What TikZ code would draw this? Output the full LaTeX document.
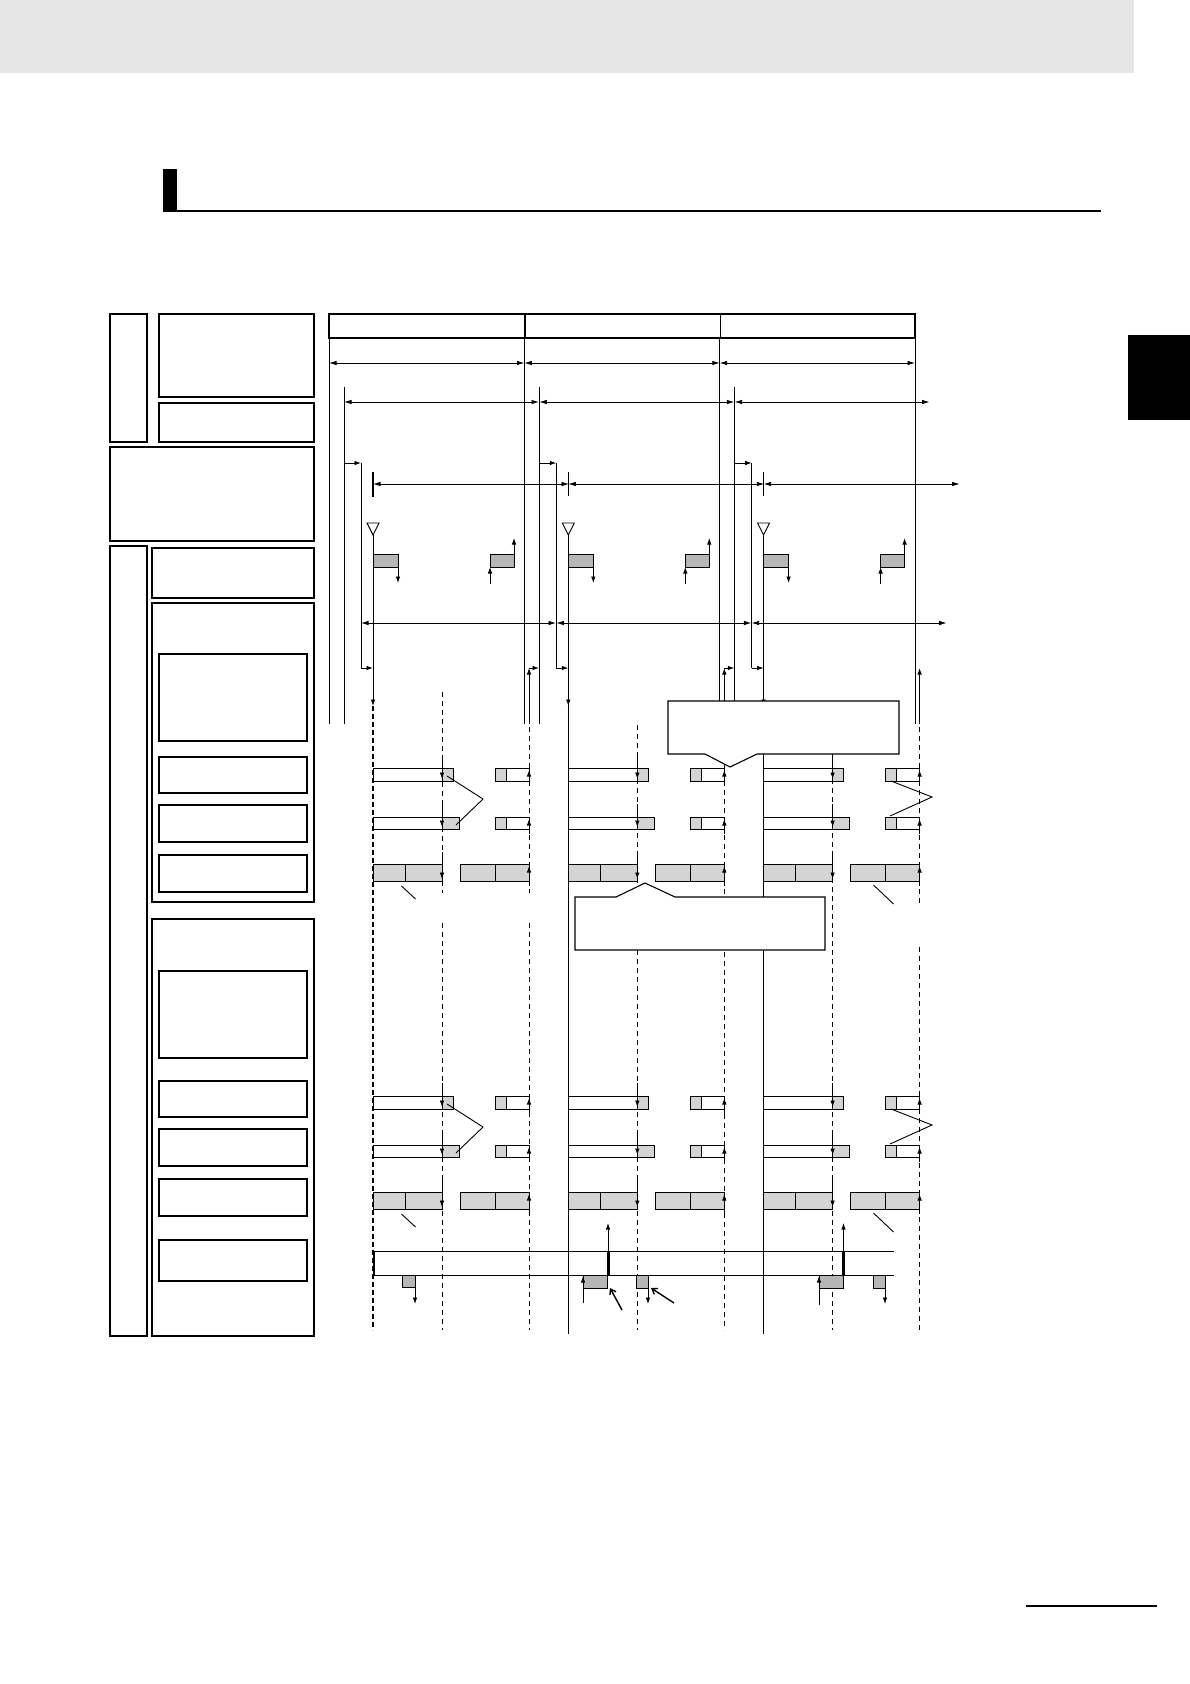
\documentclass[tikz,border=0pt]{standalone}
\usepackage{xcolor}
\usepackage{tikz}
\usetikzlibrary{arrows.meta, calc}
\definecolor{cBand}{RGB}{230,230,230}
\definecolor{cShade}{RGB}{182,182,182}
\definecolor{cLight}{RGB}{212,212,212}

\begin{document}
\begin{tikzpicture}[x=1pt, y=-1pt, line width=0.9pt,
		box/.style={draw, line width=1.1pt},
		dim/.style={{Latex[length=7.5pt,width=4.5pt]}-{Latex[length=7.5pt,width=4.5pt]}, line width=0.8pt},
		tip/.style={-{Latex[length=6.5pt,width=4.5pt]}, line width=0.8pt},
		dsh/.style={dashed, dash pattern=on 5pt off 4pt, line width=0.9pt},
		pointer/.style={-{Straight Barb[length=5pt,width=7pt]}, line width=1.4pt}]
	\useasboundingbox (0,0) rectangle (1190,1684);
	\fill[white] (0,0) rectangle (1190,1684);
	% page furniture
	\fill[cBand] (0,0) rectangle (1134,73);
	\fill (163,169) rectangle (177,212);
	\fill (163,209.5) rectangle (1101,212);
	\fill (1128,335) rectangle (1190,420);
	\draw[line width=1.5pt] (1026,1606) -- (1157,1606);
	% left column
	\foreach \xa/\ya/\xb/\yb in {110/314/147/442, 159/314/314/397, 159/403/314/442, 110/447/314/541, 110/546/147/1336, 152/548/314/598, 152/603/314/902, 159/654/307/741, 159/757/307/793, 159/805/307/842, 159/855/307/892, 152/919/314/1336, 159/971/307/1058, 159/1081/307/1117, 159/1129/307/1166, 159/1179/307/1216, 159/1240/307/1281}
		\draw[box] (\xa,\ya) rectangle (\xb,\yb);
	% time axis
	\draw[box] (329,314) rectangle (915,338);
	\draw[line width=1.8pt] (525,314) -- (525,338);
	\draw (720,314) -- (720,338);
	\draw (915,338) -- (915,724);
	\foreach \p in {0,1,2} {
		\pgfmathsetmacro{\o}{\p*195.3}
		\draw (329+\o,338) -- (329+\o,724);
		\draw (344+\o,387) -- (344+\o,724);
		\draw[dim] (329+\o,363) -- (524.5+\o,363);
		\draw[dim] (344+\o,402) -- (539+\o,402);
		\draw[tip] (344+\o,463) -- (361+\o,463);
		\draw (361+\o,463) -- (361+\o,668);
		\draw[tip] (361+\o,668) -- (373+\o,668);
		\draw[dim] (373+\o,484) -- (569+\o,484);
		\draw (373+\o,472) -- (373+\o,496);
		\draw[dim] (361+\o,623) -- (556+\o,623);
		\draw (373+\o,535) -- (373+\o,668);
		\draw[fill=white] (367+\o,523) -- (379+\o,523) -- (373+\o,535) -- cycle;
		\filldraw[fill=cShade] (373+\o,554) rectangle (398+\o,567);
		\draw[tip] (398+\o,567) -- (398+\o,583);
		\filldraw[fill=cShade] (490+\o,554) rectangle (514+\o,567);
		\draw[tip] (490+\o,584) -- (490+\o,567);
		\draw[tip] (514+\o,554) -- (514+\o,538);
		\draw[tip] (529+\o,724) -- (529+\o,668);
		\ifnum\p<2
			\draw[tip] (529+\o,668) -- (539+\o,668);
			\draw (568.3+\o,535) -- (568.3+\o,1334);
		\fi
		\draw[tip] (373+\o,668) -- (373+\o,706);
		\foreach \r in {0,328} {
			\filldraw[fill=white] (373+\o,768+\r) rectangle (453+\o,781+\r);
			\filldraw[fill=cLight] (442+\o,768+\r) rectangle (453+\o,781+\r);
			\filldraw[fill=white] (495+\o,768+\r) rectangle (529+\o,781+\r);
			\filldraw[fill=cLight] (495+\o,768+\r) rectangle (506+\o,781+\r);
			\filldraw[fill=white] (373+\o,817+\r) rectangle (459+\o,829+\r);
			\filldraw[fill=cLight] (442+\o,817+\r) rectangle (459+\o,829+\r);
			\filldraw[fill=white] (495+\o,817+\r) rectangle (529+\o,829+\r);
			\filldraw[fill=cLight] (495+\o,817+\r) rectangle (506+\o,829+\r);
			\filldraw[fill=cLight] (373+\o,864+\r) rectangle (442+\o,881+\r);
			\draw (405+\o,864+\r) -- (405+\o,881+\r);
			\filldraw[fill=cLight] (460+\o,864+\r) rectangle (529+\o,881+\r);
			\draw (495+\o,864+\r) -- (495+\o,881+\r);
			\draw[tip] (442+\o,755+\r) -- (442+\o,779+\r);
			\draw[tip] (442+\o,804+\r) -- (442+\o,827+\r);
			\draw[tip] (442+\o,852+\r) -- (442+\o,879+\r);
			\draw[tip] (529+\o,786+\r) -- (529+\o,770+\r);
			\draw[tip] (529+\o,834+\r) -- (529+\o,819+\r);
			\draw[tip] (529+\o,886+\r) -- (529+\o,866+\r);
		}
	}
	\draw (763.6,535) -- (763.6,1334);
	\draw[line width=2.5pt] (373,472) -- (373,497);
	\draw[line width=1.2pt, dashed, dash pattern=on 5pt off 3pt] (373,706) -- (373,1330);
	\foreach \xx/\ya/\yb in {442/692/893, 442/923/1330, 529/727/893, 529/923/1330, 637.6/725/1330, 724.3/727/1330, 832/725/1330, 919.6/727/904, 919.6/947/1330}
		\draw[dsh] (\xx,\ya) -- (\xx,\yb);
	\foreach \r in {0,328} {
		\draw (447,776+\r) -- (483,799+\r) -- (456,825+\r);
		\draw (891,781+\r) -- (932,797+\r) -- (890,816+\r);
		\draw (401.5,886+\r) -- (415.5,899+\r);
		\draw (873.5,885+\r) -- (893.5,904+\r);
	}
	% bottom row
	\draw (374,1251) -- (894,1251);
	\draw (374,1275) -- (894,1275);
	\draw[line width=1.6pt] (374,1251) -- (374,1275);
	\draw[line width=3pt] (608,1251) -- (608,1275);
	\draw[line width=3pt] (843.5,1251) -- (843.5,1275);
	\draw[tip] (608,1251) -- (608,1223);
	\draw[tip] (843.5,1251) -- (843.5,1223);
	\filldraw[fill=cShade] (402,1275) rectangle (415,1287);
	\draw[tip] (415,1287) -- (415,1304);
	\filldraw[fill=cShade] (583,1275) rectangle (607,1288);
	\draw[tip] (583,1303) -- (583,1276);
	\filldraw[fill=cShade] (636,1275) rectangle (648,1288);
	\draw[tip] (648,1288) -- (648,1304);
	\filldraw[fill=cShade] (819,1275) rectangle (843,1288);
	\draw[tip] (819,1305) -- (819,1276);
	\filldraw[fill=cShade] (873,1275) rectangle (885,1288);
	\draw[tip] (885,1288) -- (885,1304);
	\draw[pointer] (622,1310) -- (610,1288);
	\draw[pointer] (674,1303) -- (651,1288);
	% callouts
	\filldraw[fill=white, line width=1.1pt] (668,701) -- (899,701) -- (899,754) -- (757,754) -- (730,767) -- (705,754) -- (668,754) -- cycle;
	\filldraw[fill=white, line width=1.1pt] (575,897) -- (616,897) -- (645,883) -- (675,897) -- (825,897) -- (825,950) -- (575,950) -- cycle;
\end{tikzpicture}
\end{document}
